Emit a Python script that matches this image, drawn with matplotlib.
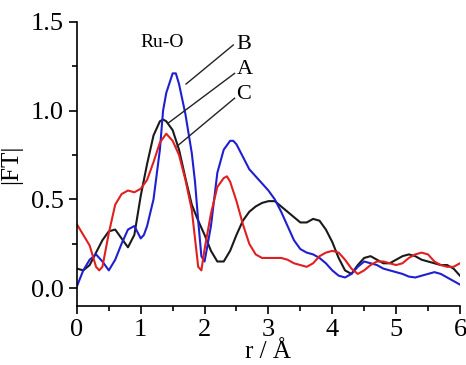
import numpy as np
import matplotlib
matplotlib.use('Agg')
import matplotlib.pyplot as plt
from matplotlib.ticker import MultipleLocator

plt.rcParams['font.family'] = 'serif'
plt.rcParams['font.serif'] = ['Liberation Serif', 'DejaVu Serif']

# sample A (black)
r_a = [0, 0.1, 0.2, 0.3, 0.4, 0.5, 0.6, 0.7, 0.8, 0.9, 1.0, 1.1, 1.2, 1.3, 1.35,
       1.4, 1.5, 1.6, 1.7, 1.8, 1.9, 2.0, 2.1, 2.2, 2.3, 2.4, 2.5, 2.6, 2.7, 2.8,
       2.9, 3.0, 3.1, 3.2, 3.3, 3.4, 3.5, 3.6, 3.7, 3.8, 3.9, 4.0, 4.1, 4.2, 4.3,
       4.4, 4.5, 4.6, 4.7, 4.8, 4.9, 5.0, 5.1, 5.2, 5.3, 5.4, 5.5, 5.6, 5.7, 5.8,
       5.9, 6.0]
ft_a = [0.11, 0.10, 0.13, 0.20, 0.27, 0.32, 0.33, 0.28, 0.23, 0.30, 0.52, 0.70,
        0.86, 0.94, 0.95, 0.94, 0.89, 0.78, 0.62, 0.47, 0.38, 0.30, 0.21, 0.15,
        0.15, 0.21, 0.30, 0.38, 0.43, 0.46, 0.48, 0.49, 0.49, 0.46, 0.43, 0.40,
        0.37, 0.37, 0.39, 0.38, 0.33, 0.26, 0.17, 0.10, 0.08, 0.13, 0.17, 0.18,
        0.16, 0.14, 0.14, 0.16, 0.18, 0.19, 0.18, 0.16, 0.15, 0.14, 0.13, 0.13,
        0.11, 0.07]

# sample B (blue)
r_b = [0, 0.1, 0.2, 0.3, 0.4, 0.5, 0.6, 0.7, 0.8, 0.9, 1.0, 1.05, 1.1, 1.2, 1.3,
       1.35, 1.4, 1.5, 1.55, 1.6, 1.7, 1.8, 1.85, 1.9, 1.95, 2.0, 2.1, 2.2, 2.3,
       2.4, 2.45, 2.5, 2.6, 2.7, 2.8, 2.9, 3.0, 3.1, 3.2, 3.3, 3.4, 3.5, 3.6, 3.7,
       3.8, 3.9, 4.0, 4.1, 4.2, 4.3, 4.4, 4.5, 4.6, 4.7, 4.8, 4.9, 5.0, 5.1, 5.2,
       5.3, 5.4, 5.5, 5.6, 5.7, 5.8, 5.9, 6.0]
ft_b = [0.01, 0.10, 0.16, 0.19, 0.15, 0.10, 0.16, 0.25, 0.33, 0.35, 0.28, 0.30,
        0.35, 0.50, 0.78, 1.00, 1.10, 1.21, 1.21, 1.15, 0.98, 0.76, 0.60, 0.38,
        0.18, 0.15, 0.35, 0.65, 0.78, 0.83, 0.83, 0.81, 0.74, 0.67, 0.63, 0.59,
        0.55, 0.50, 0.43, 0.35, 0.27, 0.22, 0.20, 0.19, 0.17, 0.14, 0.10, 0.07,
        0.06, 0.08, 0.12, 0.15, 0.14, 0.13, 0.11, 0.10, 0.09, 0.08, 0.065, 0.06,
        0.07, 0.08, 0.09, 0.08, 0.06, 0.04, 0.02]

# sample C (red)
r_c = [0, 0.1, 0.2, 0.3, 0.35, 0.4, 0.5, 0.6, 0.7, 0.8, 0.9, 1.0, 1.1, 1.2, 1.3,
       1.4, 1.5, 1.6, 1.7, 1.8, 1.85, 1.9, 1.95, 2.0, 2.1, 2.2, 2.3, 2.35, 2.4,
       2.5, 2.6, 2.7, 2.8, 2.9, 3.0, 3.1, 3.2, 3.3, 3.4, 3.5, 3.6, 3.7, 3.8, 3.9,
       4.0, 4.1, 4.2, 4.3, 4.4, 4.5, 4.6, 4.7, 4.8, 4.9, 5.0, 5.1, 5.2, 5.3, 5.4,
       5.5, 5.6, 5.7, 5.8, 5.9, 6.0]
ft_c = [0.36, 0.30, 0.24, 0.12, 0.10, 0.12, 0.31, 0.47, 0.53, 0.55, 0.54, 0.56,
        0.61, 0.71, 0.82, 0.87, 0.83, 0.75, 0.61, 0.44, 0.28, 0.12, 0.10, 0.22,
        0.42, 0.57, 0.62, 0.63, 0.60, 0.49, 0.36, 0.25, 0.19, 0.17, 0.17, 0.17,
        0.17, 0.16, 0.14, 0.13, 0.12, 0.14, 0.18, 0.20, 0.21, 0.20, 0.16, 0.11,
        0.08, 0.10, 0.13, 0.15, 0.15, 0.14, 0.13, 0.14, 0.17, 0.19, 0.20, 0.19,
        0.15, 0.13, 0.12, 0.12, 0.14]

fig = plt.figure(figsize=(4.66, 3.65), dpi=100)
ax = fig.add_axes([0.165, 0.162, 0.822, 0.778])

ax.plot(r_a, ft_a, color='#1a1a1a', lw=1.5)
ax.plot(r_b, ft_b, color='#1f1fd0', lw=1.5)
ax.plot(r_c, ft_c, color='#e02020', lw=1.5)

# pointer lines for labels
ax.plot([1.71, 2.45], [1.15, 1.37], color='#222222', lw=1)
ax.plot([1.43, 2.47], [0.93, 1.21], color='#222222', lw=1)
ax.plot([1.57, 2.47], [0.80, 1.07], color='#222222', lw=1)
ax.text(2.5, 1.37, 'B', fontsize=16, va='center', ha='left')
ax.text(2.5, 1.23, 'A', fontsize=16, va='center', ha='left')
ax.text(2.5, 1.09, 'C', fontsize=16, va='center', ha='left')
ax.text(1.33, 1.385, 'Ru-O', fontsize=14, va='center', ha='center')

ax.set_xlim(0, 6)
ax.set_ylim(-0.1, 1.5)
ax.xaxis.set_major_locator(MultipleLocator(1))
ax.xaxis.set_minor_locator(MultipleLocator(0.5))
ax.yaxis.set_major_locator(MultipleLocator(0.5))
ax.yaxis.set_minor_locator(MultipleLocator(0.25))
ax.tick_params(which='major', direction='out', length=6, width=1.2, labelsize=19)
ax.tick_params(which='minor', direction='out', length=3.5, width=1.2)
for s in ['top', 'right']:
    ax.spines[s].set_visible(False)
for s in ['left', 'bottom']:
    ax.spines[s].set_linewidth(1.2)
ax.set_yticks([0, 0.5, 1.0, 1.5])
ax.set_yticklabels(['0.0', '0.5', '1.0', '1.5'])

ax.set_xlabel('r / Å', fontsize=18, labelpad=0)
ax.set_ylabel('|FT|', fontsize=18, labelpad=6)

plt.savefig('out.png', dpi=100)
